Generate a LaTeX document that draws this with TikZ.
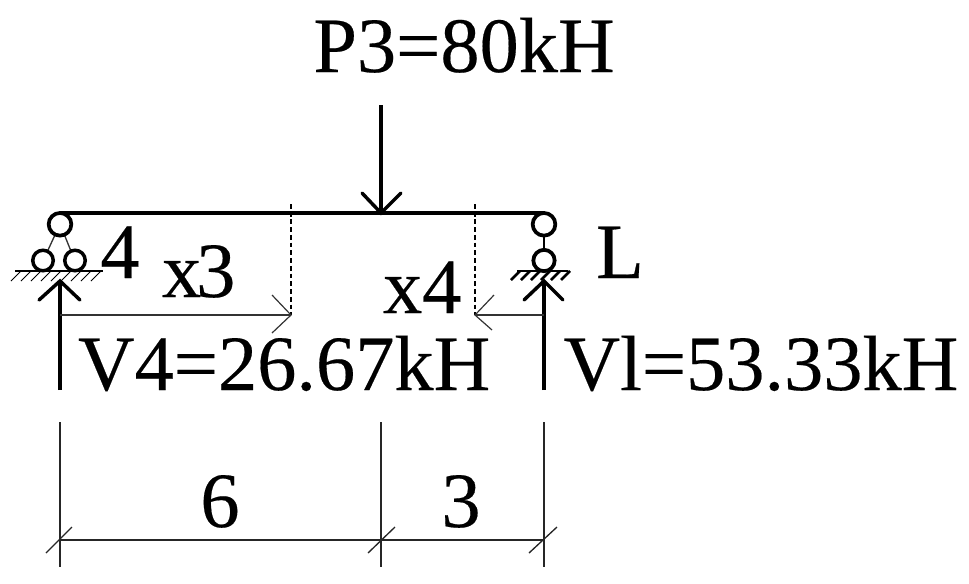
\documentclass[tikz,border=0pt]{standalone}
\usepackage{fontspec}
\setmainfont[FakeBold=0.25]{Liberation Serif}
\tikzset{
  px/.style={x=0.75pt,y=-0.75pt},
  label/.style={anchor=base west,inner sep=0pt,outer sep=0pt,font=\fontsize{58.8}{60}\selectfont},
  labelc/.style={label,anchor=base},
  pin/.style={circle,draw,line width=2.8pt,fill=white,inner sep=0pt,outer sep=0pt,minimum size=17pt},
  wheel/.style={circle,draw,line width=2.6pt,fill=white,inner sep=0pt,outer sep=0pt,minimum size=15.4pt},
  beam/.style={line width=3pt},
  force/.style={line width=2.6pt},
  thin line/.style={line width=0.9pt,draw=black!80},
  dim/.style={line width=1pt,draw=black!85},
  guide/.style={line width=0.8pt,dash pattern=on 3.6pt off 2.2pt},
}
\begin{document}
\begin{tikzpicture}[px]
\useasboundingbox (0,0) rectangle (969,583);
% coordinates
\coordinate (gl1) at (15,271); \coordinate (gl2) at (103,271);
\coordinate (gr1) at (517,271); \coordinate (gr2) at (568,271);
\coordinate (P0) at (381,105); \coordinate (P1) at (381,213);
\coordinate (VA0) at (60,390); \coordinate (VA1) at (60,281);
\coordinate (VB0) at (544,390); \coordinate (VB1) at (544,281);
\coordinate (d3t) at (291,204); \coordinate (d3b) at (291,315);
\coordinate (d4t) at (475,204); \coordinate (d4b) at (475,315);
\coordinate (x3a) at (60,315); \coordinate (x4a) at (544,315);
\coordinate (dA0) at (60,422); \coordinate (dA1) at (60,567);
\coordinate (dM0) at (381,422); \coordinate (dM1) at (381,567);
\coordinate (dB0) at (544,422); \coordinate (dB1) at (544,567);
\coordinate (dA) at (60,540); \coordinate (dM) at (381,540); \coordinate (dB) at (544,540);
% links and ground
\draw[thin line,line width=1pt] (60,224) -- (43,261);
\draw[thin line,line width=1pt] (60,224) -- (75,261);
\draw[line width=2.2pt] (544,224) -- (544,261);
\draw[line width=1pt] (gl1) -- (gl2);
\foreach \x in {21,31,41,51,61,71,81,91,101}
  \draw[line width=0.7pt] (\x,271) -- ++(-10,10);
\draw[line width=2.2pt] (gr1) -- (gr2);
\foreach \x in {520,530,540,550,560,570}
  \draw[line width=1.9pt] (\x,271) -- ++(-9,9);
% supports
\node[pin] (A) at (60,224.3) {};
\node[pin] (B) at (544,224.3) {};
\node[wheel] (A1) at (43,260.5) {};
\node[wheel] (A2) at (75,260.5) {};
\node[pin,minimum size=16pt] (B1) at (544,260.5) {};
% beam
\draw[beam] (A.north) -- (B.north);
% load and reactions
\draw[force] (P0) -- (P1);
\draw[force,line cap=round] (362,193) -- (P1) -- (401,193);
\draw[force] (VA0) -- (VA1);
\draw[force,line cap=round] (39,300) -- (VA1) -- (80,300);
\draw[force] (VB0) -- (VB1);
\draw[force,line cap=round] (524,300) -- (VB1) -- (563,300);
% x3 and x4
\draw[guide] (d3t) -- (d3b);
\draw[guide] (d4t) -- (d4b);
\draw[thin line] (x3a) -- (d3b);
\draw[thin line] (x4a) -- (d4b);
\draw[thin line] (272,295) -- (d3b) -- (272,333);
\draw[thin line] (494,295) -- (d4b) -- (492,330);
% dimensions
\draw[dim] (dA0) -- (dA1);
\draw[dim] (dM0) -- (dM1);
\draw[dim] (dB0) -- (dB1);
\draw[dim] (dA) -- (dB);
\draw[dim] (46,553) -- (72,527);
\draw[dim] (368,553) -- (395,527);
\draw[dim] (529,553) -- (557,527);
% text
\node[labelc] (tP) at (464,72) {P3=80kH};
\node[labelc] (t4) at (120,278) {4};
\node[label] (tL) at (596,278) {L};
\node[label] (tx3) at (162,297) {x\kern-3.8pt3};
\node[label] (tx4) at (383,313) {x4};
\node[label] (tV4) at (78,390) {V4=26.67kH};
\node[label] (tVl) at (563.5,390) {Vl=53.33kH};
\node[labelc] (t6) at (220,527) {6};
\node[labelc] (t3) at (461,527) {3};
\end{tikzpicture}
\end{document}
